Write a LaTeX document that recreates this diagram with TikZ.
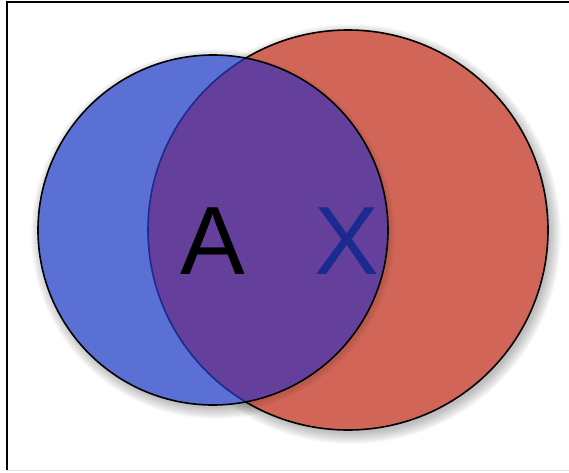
\documentclass[tikz,border=0pt]{standalone}
\usepackage{fontspec}
\setmainfont{Liberation Sans}
\begin{document}
\begin{tikzpicture}[x=1pt,y=1pt,
  outline/.style={draw=black,line width=1.6pt},
  biglabel/.style={inner sep=0pt,anchor=base,font=\fontsize{97}{97}\selectfont}]
\definecolor{vblue}{HTML}{5A70D4}
\definecolor{vred}{HTML}{D06558}
\definecolor{vpurple}{HTML}{643F9B}
\definecolor{vnavy}{HTML}{1A2A8E}
\useasboundingbox (0,0) rectangle (569,472);
% frame
\draw[line width=1.3pt] (569,470) -- (7,470) -- (7,2);
\draw[line width=0.8pt,color=black!12] (7,1.5) -- (569,1.5);
% centres
\coordinate (cb) at (213,242);
\coordinate (cr) at (348,242);
% red shadow
\foreach \i in {0,...,11}{
  \fill[black,opacity=0.025] ([shift={(3,-4)}]cr) circle ({199+\i*1.0});
}
\fill[vred] (cr) circle (200);
\draw[outline] (cr) circle (200);
% blue shadow (only outside red)
\begin{scope}[even odd rule]
  \clip (0,0) rectangle (569,472) (cr) circle (200);
  \foreach \i in {0,...,11}{
    \fill[black,opacity=0.025] ([shift={(3,-4)}]cb) circle ({174+\i*1.0});
  }
\end{scope}
\begin{scope}
  \clip (cr) circle (200);
  \foreach \i in {0,...,5}{
    \fill[black,opacity=0.015] ([shift={(2,-3)}]cb) circle ({175+\i*1.0});
  }
\end{scope}
\fill[vblue] (cb) circle (175);
% overlap
\begin{scope}
  \clip (cr) circle (200);
  \fill[vpurple] (cb) circle (175);
  \node[biglabel,text=vnavy] (x) at (347,198) {X};
\end{scope}
% red outline seen through blue
\begin{scope}
  \clip (cb) circle (175);
  \draw[vnavy,line width=1.6pt] (cr) circle (200);
\end{scope}
\draw[outline] (cb) circle (175);
\node[biglabel,text=black] (a) at (212.5,198) {A};
\end{tikzpicture}
\end{document}
